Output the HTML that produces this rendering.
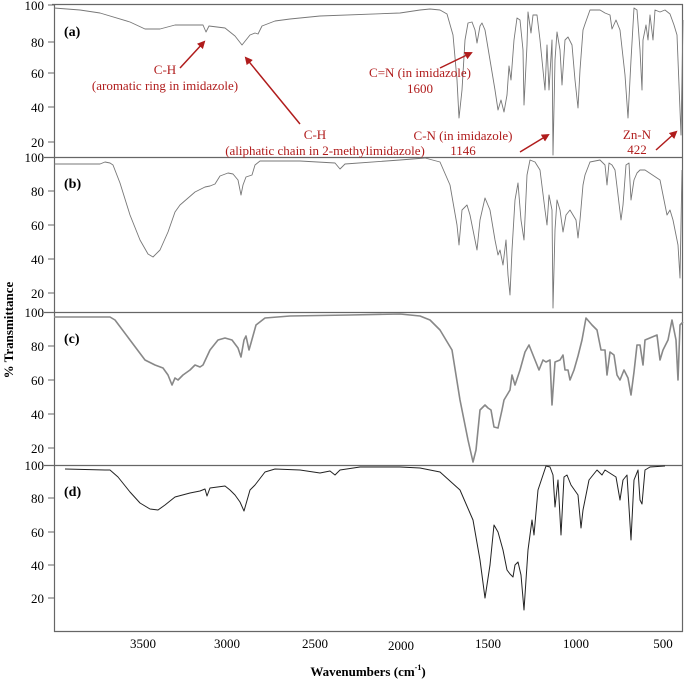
<!DOCTYPE html>
<html><head><meta charset="utf-8"><style>
html,body{margin:0;padding:0;background:#fff;}
svg{display:block;font-family:"Liberation Serif",serif;}
</style></head><body>
<svg width="685" height="682" viewBox="0 0 685 682" xmlns="http://www.w3.org/2000/svg">
<g stroke="#666" stroke-width="1.2" fill="none">
<line x1="52" y1="4.5" x2="683" y2="4.5"/>
<line x1="44" y1="157.5" x2="683" y2="157.5"/>
<line x1="44" y1="312.5" x2="683" y2="312.5"/>
<line x1="44" y1="465.5" x2="683" y2="465.5"/>
<line x1="54" y1="631.5" x2="683" y2="631.5"/>
<line x1="54.5" y1="4" x2="54.5" y2="632"/>
<line x1="682.5" y1="4" x2="682.5" y2="632"/>
</g>
<g stroke="#666" stroke-width="1">
<line x1="48" y1="5" x2="54" y2="5"/><line x1="48" y1="42" x2="54" y2="42"/><line x1="48" y1="73" x2="54" y2="73"/><line x1="48" y1="107" x2="54" y2="107"/><line x1="48" y1="142" x2="54" y2="142"/>
<line x1="48" y1="191" x2="54" y2="191"/><line x1="48" y1="225" x2="54" y2="225"/><line x1="48" y1="259" x2="54" y2="259"/><line x1="48" y1="293" x2="54" y2="293"/>
<line x1="48" y1="346" x2="54" y2="346"/><line x1="48" y1="380" x2="54" y2="380"/><line x1="48" y1="414" x2="54" y2="414"/><line x1="48" y1="448" x2="54" y2="448"/>
<line x1="48" y1="498" x2="54" y2="498"/><line x1="48" y1="532" x2="54" y2="532"/><line x1="48" y1="565" x2="54" y2="565"/><line x1="48" y1="598" x2="54" y2="598"/>
</g>
<g font-size="13" text-anchor="end" fill="#000">
<text x="44" y="10">100</text><text x="44" y="47">80</text><text x="44" y="78">60</text><text x="44" y="112">40</text><text x="44" y="147">20</text>
<text x="44" y="162">100</text><text x="44" y="196">80</text><text x="44" y="230">60</text><text x="44" y="264">40</text><text x="44" y="298">20</text>
<text x="44" y="317">100</text><text x="44" y="351">80</text><text x="44" y="385">60</text><text x="44" y="419">40</text><text x="44" y="453">20</text>
<text x="44" y="470">100</text><text x="44" y="503">80</text><text x="44" y="537">60</text><text x="44" y="570">40</text><text x="44" y="603">20</text>
</g>
<g font-size="13" text-anchor="middle" fill="#000">
<text x="143" y="648">3500</text><text x="227" y="648">3000</text><text x="315" y="648">2500</text><text x="401" y="650">2000</text><text x="488" y="648">1500</text><text x="576" y="648">1000</text><text x="663" y="648">500</text>
<text x="368" y="676" font-weight="bold" font-size="13">Wavenumbers (cm<tspan font-size="8" dy="-6">-1</tspan><tspan dy="6">)</tspan></text>
<text transform="translate(13,330) rotate(-90)" font-weight="bold" font-size="13">% Transmittance</text>
</g>
<g font-size="14" font-weight="bold" fill="#000">
<text x="64" y="36">(a)</text><text x="64" y="188">(b)</text><text x="64" y="343">(c)</text><text x="64" y="496">(d)</text>
</g>
<g fill="none" stroke-linejoin="round">
<polyline stroke="#777" stroke-width="0.9" points="54,8 80,10 100,13 130,22 145,29 160,29 175,25 195,25 203,25 206,32 209,26 225,28 235,36 242,45 246,40 250,35 255,33 258,34 262,26 275,21 290,19 300,18 320,16 400,13 420,10 430,9 440,10 447,14 453,35 457,80 459,118 462,90 465,40 468,23 472,22 475,30 477,43 480,26 482,23 485,30 490,60 495,90 498,110 501,100 504,112 507,95 509,66 511,80 514,40 517,18 520,20 523,50 524,105 527,45 528,12 531,33 533,15 537,15 540,40 545,90 547,45 549,90 552,40 553,155 555,60 557,32 560,50 562,85 565,40 568,37 572,45 575,80 578,108 580,70 583,30 585,24 590,10 600,10 605,13 610,15 612,29 616,20 620,30 625,75 628,118 631,60 634,8 637,10 640,50 642,90 643,40 646,25 648,40 650,15 653,40 655,10 660,12 665,10 670,14 674,25 677,35 680,110 681,135 683,20"/>
<polyline stroke="#777" stroke-width="0.9" points="54,164 100,164 105,162 110,163 113,165 120,183 130,215 140,240 148,254 153,257 160,250 168,232 175,212 180,205 195,192 205,187 210,186 215,184 220,176 228,173 233,174 238,180 241,195 243,185 246,177 252,175 255,165 260,161 300,161 335,163 340,169 345,164 400,160 425,158 440,162 450,185 457,225 459,245 462,210 467,205 470,215 475,240 477,250 480,220 485,198 490,210 495,240 498,255 500,250 503,265 506,240 508,275 510,295 512,250 515,200 518,183 521,220 524,240 527,175 530,160 535,162 540,170 545,210 547,225 549,195 552,210 553,308 555,230 557,200 560,210 563,232 566,215 570,210 573,215 576,220 578,238 580,220 583,185 585,175 590,162 600,160 605,165 607,185 609,163 612,165 615,170 618,195 621,220 623,205 626,165 629,163 631,200 634,180 637,173 640,170 645,170 660,180 667,215 670,210 673,220 678,245 680,278 682,170"/>
<polyline stroke="#888" stroke-width="1.6" points="54,317 110,317 115,320 130,340 145,360 155,365 163,368 168,375 172,385 175,378 178,380 183,375 190,370 195,365 200,367 203,365 210,350 218,340 225,338 232,340 238,348 241,357 244,340 246,336 249,350 251,343 256,325 265,318 290,316 350,315 400,314 420,316 430,320 440,330 452,350 460,400 468,440 473,462 476,450 480,410 482,408 485,405 488,408 491,410 494,427 498,428 502,410 504,400 507,395 510,390 512,375 515,385 520,370 525,352 529,345 531,350 535,360 539,370 541,365 543,360 546,362 550,360 552,405 555,362 560,360 563,355 565,370 568,370 570,380 574,370 578,356 582,340 586,318 592,325 597,330 601,350 605,350 607,375 610,352 614,355 617,375 620,380 624,370 628,378 631,395 634,372 637,345 640,345 643,365 645,340 657,335 660,360 663,350 668,340 672,320 676,340 678,380 680,325 683,322"/>
<polyline stroke="#222" stroke-width="1" points="65,469 105,470 110,470 118,477 130,492 140,503 150,509 158,510 165,505 175,497 190,493 200,491 205,489 207,496 210,488 225,486 230,490 235,495 240,502 244,511 246,504 250,490 255,485 265,472 275,469 300,470 320,473 330,471 335,475 340,470 360,467 400,467 420,468 440,472 460,490 473,520 480,560 485,598 490,565 494,525 498,532 503,550 507,570 510,574 513,577 515,565 518,562 521,575 524,610 528,550 532,520 534,535 538,490 546,466 550,467 553,475 555,507 558,480 561,535 564,477 567,475 571,485 578,495 581,528 583,510 589,480 597,470 602,475 605,470 616,477 620,500 623,480 627,475 631,540 634,480 638,470 640,500 642,504 645,470 650,467 665,466"/>
</g>
<defs><marker id="ah" markerWidth="8" markerHeight="8" refX="6" refY="4" orient="auto" markerUnits="userSpaceOnUse"><path d="M0,0 L8,4 L0,8 z" fill="#b01c1c"/></marker></defs>
<g stroke="#b01c1c" stroke-width="1.5" marker-end="url(#ah)">
<line x1="180" y1="68" x2="204" y2="42"/>
<line x1="300" y1="124" x2="246" y2="58"/>
<line x1="440" y1="68" x2="471" y2="53"/>
<line x1="520" y1="152" x2="548" y2="135"/>
<line x1="656" y1="150" x2="676" y2="132"/>
</g>
<g font-size="13" fill="#b01c1c" text-anchor="middle">
<text x="165" y="74">C-H</text><text x="165" y="90">(aromatic ring in imidazole)</text>
<text x="315" y="139">C-H</text><text x="325" y="155">(aliphatic chain in 2-methylimidazole)</text>
<text x="420" y="77">C=N (in imidazole)</text><text x="420" y="93">1600</text>
<text x="463" y="140">C-N (in imidazole)</text><text x="463" y="155">1146</text>
<text x="637" y="139">Zn-N</text><text x="637" y="154">422</text>
</g>
</svg>
</body></html>
